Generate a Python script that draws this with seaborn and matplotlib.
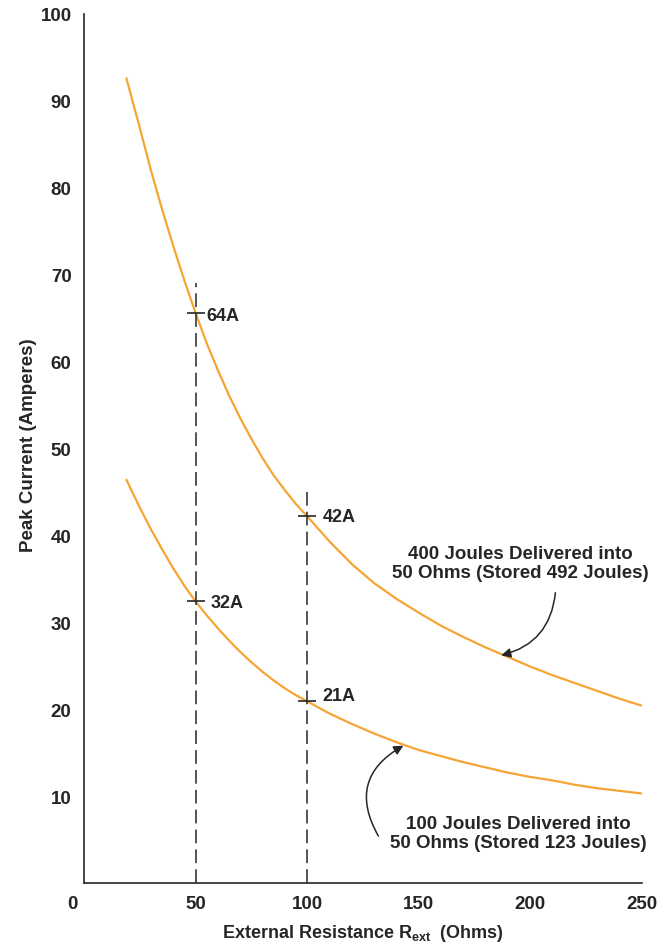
import matplotlib
matplotlib.use("Agg")
import matplotlib.pyplot as plt
import matplotlib.transforms as mtransforms
import seaborn as sns
import pandas as pd

# ---- data ----
resistance = [19, 25, 30, 35, 40, 45, 50, 55, 60, 65, 70, 75, 80, 85, 90, 95, 100,
              110, 120, 130, 140, 150, 160, 170, 180, 190, 200, 210, 220, 230, 240, 250]
current_400J = [92.6, 86.9, 82.0, 77.5, 73.3, 69.3, 65.6, 62.1, 59.0, 56.1, 53.5, 51.1,
                48.9, 46.9, 45.2, 43.6, 42.2,
                39.3, 36.7, 34.5, 32.7, 31.1, 29.6, 28.3, 27.1, 26.0, 24.9, 23.9, 23.0,
                22.1, 21.2, 20.4]
current_100J = [46.4, 43.2, 40.7, 38.4, 36.2, 34.2, 32.4, 30.8, 29.3, 27.9, 26.6, 25.4,
                24.3, 23.3, 22.4, 21.6, 20.9,
                19.5, 18.3, 17.2, 16.2, 15.3, 14.6, 13.9, 13.3, 12.7, 12.2, 11.8, 11.3,
                10.9, 10.6, 10.3]

series_names = ["400 Joules Delivered into\n50 Ohms (Stored 492 Joules)",
                "100 Joules Delivered into\n50 Ohms (Stored 123 Joules)"]

marker_x = [50, 100, 50, 100]
marker_y = [65.6, 42.2, 32.4, 20.9]
marker_labels = ["64A", "42A", "32A", "21A"]

guide_x = [50, 100]
guide_top = [69.0, 45.6]

x_ticks = [0, 50, 100, 150, 200, 250]
y_ticks = [10, 20, 30, 40, 50, 60, 70, 80, 90, 100]

# ---- styling ----
sns.set_theme(style="white")
plt.rcParams["font.family"] = ["Liberation Sans", "DejaVu Sans"]
plt.rcParams["font.weight"] = "bold"
plt.rcParams["mathtext.fontset"] = "custom"
plt.rcParams["mathtext.rm"] = "Liberation Sans:bold"
plt.rcParams["mathtext.bf"] = "Liberation Sans:bold"

INK = "#262628"
ORANGE = "#f6a534"

fig = plt.figure(figsize=(6.67, 9.45), dpi=100)
ax = fig.add_axes([84 / 667, 61 / 945, 558 / 667, 869 / 945])

df = pd.DataFrame({
    "R": resistance * 2,
    "I": current_400J + current_100J,
    "series": [series_names[0]] * len(resistance) + [series_names[1]] * len(resistance),
})
sns.lineplot(data=df, x="R", y="I", hue="series", palette=[ORANGE, ORANGE],
             linewidth=1.6, legend=False, ax=ax, estimator=None, sort=False)

# dashed guide lines
ax.vlines(guide_x, 0, guide_top, colors=INK, linewidth=1.1, linestyles=(0, (9, 4)))

# cross marks
ax.plot(marker_x, marker_y, ls="none", marker="_", ms=13, mew=1.2, color=INK)
label_offsets = [(8, -2), (11, 0), (11, -1), (11, 4)]
for x, y, lab, off in zip(marker_x, marker_y, marker_labels, label_offsets):
    ax.annotate(lab, (x, y), xytext=off, textcoords="offset points",
                va="center", ha="left", fontsize=13, color=INK, fontweight="bold")

# curve annotations
ax.text(195.5, 36.8, series_names[0], ha="center", va="center", fontsize=13.5,
        color=INK, linespacing=1.15)
ax.annotate("", xy=(186.9, 26.2), xytext=(211.2, 33.4),
            arrowprops=dict(arrowstyle="-|>", color=INK, lw=1.1,
                            connectionstyle="arc3,rad=-0.35",
                            shrinkA=0, shrinkB=0, mutation_scale=14))
ax.text(194.6, 5.75, series_names[1], ha="center", va="center", fontsize=13.5,
        color=INK, linespacing=1.15)
ax.annotate("", xy=(143.1, 15.8), xytext=(131.9, 5.4),
            arrowprops=dict(arrowstyle="-|>", color=INK, lw=1.1,
                            connectionstyle="arc3,rad=-0.5",
                            shrinkA=0, shrinkB=0, mutation_scale=14))

# axes
ax.set_xlim(0, 250)
ax.set_ylim(0, 100)
ax.set_xticks(x_ticks)
ax.set_yticks(y_ticks)
ax.set_xticklabels([str(v) for v in x_ticks])
ax.set_yticklabels([str(v) for v in y_ticks])
for side in ["top", "right"]:
    ax.spines[side].set_visible(False)
for side in ["left", "bottom"]:
    ax.spines[side].set_color(INK)
    ax.spines[side].set_linewidth(1.2)

ax.tick_params(axis="both", direction="in", length=7, width=1.2, color=INK,
               labelsize=13.5, labelcolor=INK)
ax.tick_params(axis="y", pad=9)
ax.tick_params(axis="x", pad=9)
for t in ax.xaxis.get_major_ticks()[:3]:
    t.tick1line.set_visible(False)
for lbl in ax.get_xticklabels() + ax.get_yticklabels():
    lbl.set_fontweight("bold")
# shift the "0" label slightly left as in the reference
zero = ax.get_xticklabels()[0]
zero.set_transform(zero.get_transform() + mtransforms.ScaledTranslation(-12 / 100, 0, fig.dpi_scale_trans))

ax.set_xlabel(r"External Resistance R$_{\mathrm{ext}}$  (Ohms)", fontsize=13,
              color=INK, fontweight="bold", labelpad=7)
ax.set_ylabel("Peak Current (Amperes)", fontsize=13.5, color=INK,
              fontweight="bold")
ax.yaxis.set_label_coords(-47 / 558, 0.505)

fig.savefig("out.png", dpi=100)
